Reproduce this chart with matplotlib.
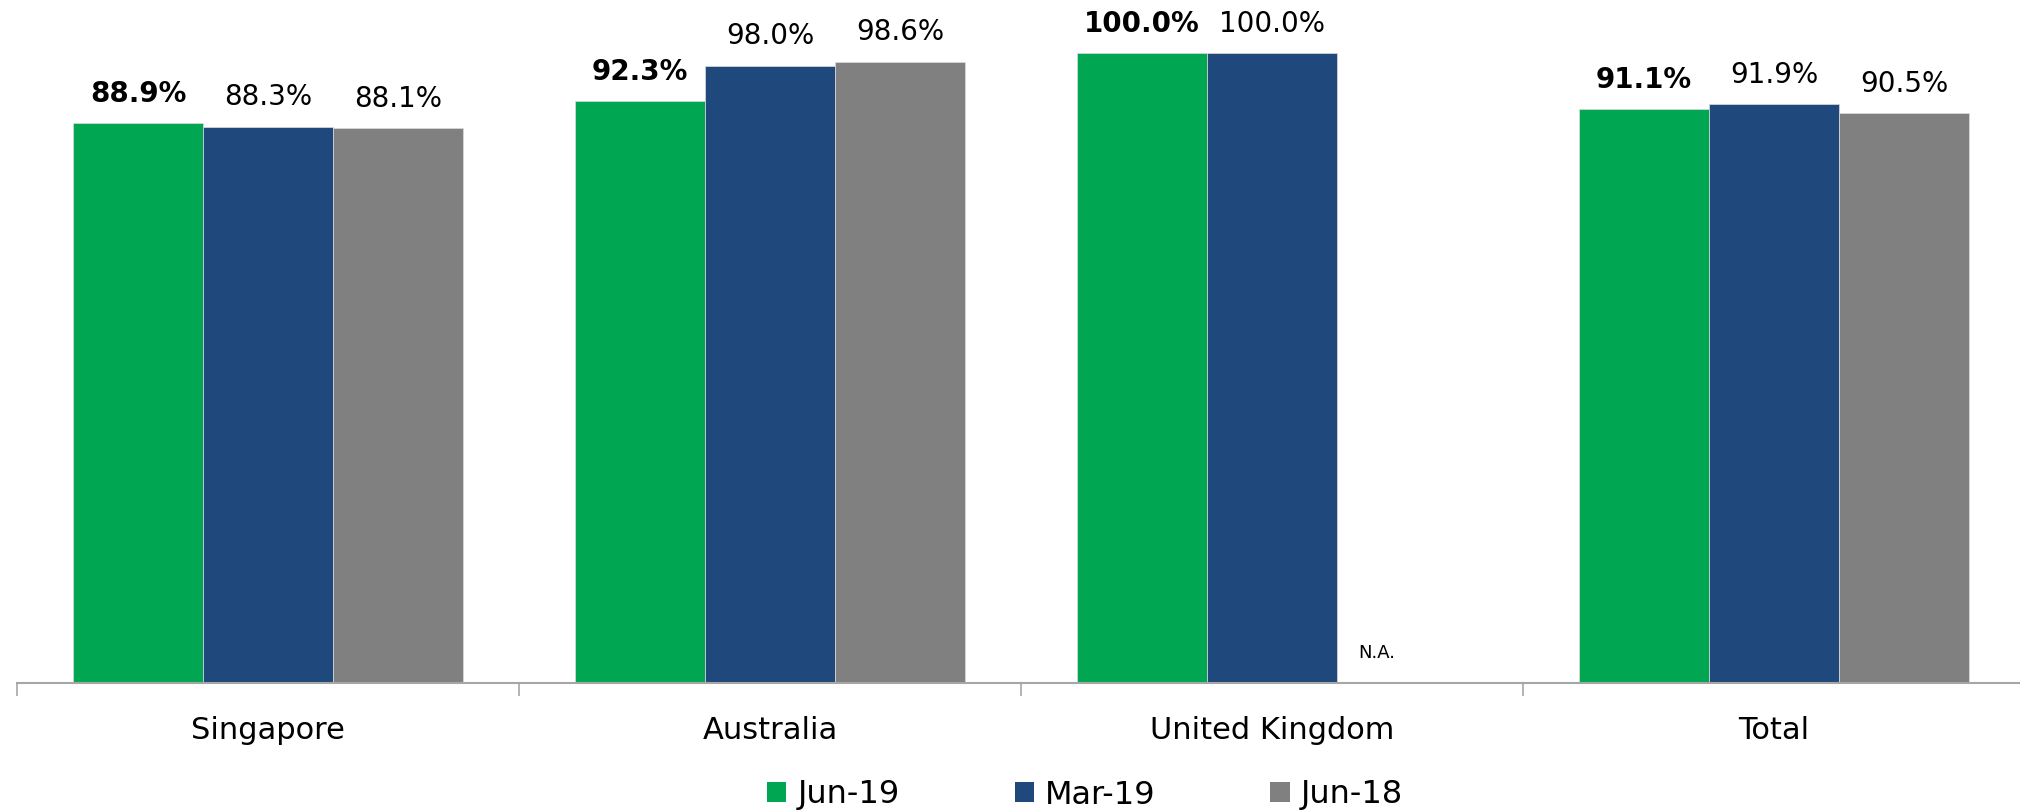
import numpy as np
import matplotlib.pyplot as plt
from matplotlib.patches import Patch

categories = ["Singapore", "Australia", "United Kingdom", "Total"]
series = ["Jun-19", "Mar-19", "Jun-18"]
jun19 = [88.9, 92.3, 100.0, 91.1]
mar19 = [88.3, 98.0, 100.0, 91.9]
jun18 = [88.1, 98.6, np.nan, 90.5]
colors = ["#00A651", "#1F497D", "#808080"]

plt.rcParams['font.family'] = ['DejaVu Sans']

fig = plt.figure(figsize=(20.2, 8.11), dpi=100)
ax = fig.add_axes([17/2020, 1-683/811, 2008/2020, 683/811])

x = np.arange(len(categories))
w = 0.259
for k, (vals, col) in enumerate(zip([jun19, mar19, jun18], colors)):
    pos = x + (k-1)*w
    v = np.array(vals, dtype=float)
    ok = ~np.isnan(v)
    bars = ax.bar(pos[ok], v[ok], w, color=col, edgecolor="#dddddd", linewidth=0.5)
    labels = ["%.1f%%" % a for a in v[ok]]
    ax.bar_label(bars, labels=labels, padding=11, fontsize=20,
                 fontweight="bold" if k == 0 else "normal", color="black")
    for p, a in zip(pos, v):
        if np.isnan(a):
            # no value for this period
            ax.text(p - 0.5*w + 0.042, 4.7, "N.A.", fontsize=13, va="center", ha="left",
                    family=['Liberation Sans Narrow', 'DejaVu Sans'])

ax.set_xlim(-0.5, 3.5)
ax.set_ylim(0, 108.4)
ax.set_yticks([])
for s in ["top", "right", "left"]:
    ax.spines[s].set_visible(False)
ax.spines["bottom"].set_color("#a6a6a6")
ax.spines["bottom"].set_linewidth(1.5)
ax.set_xticks(np.arange(-0.5, 4.0, 1.0))
ax.set_xticklabels([])
ax.tick_params(axis="x", which="major", length=9, width=1.2, color="#a6a6a6")
ax.set_xticks(x, minor=True)
ax.set_xticklabels(categories, minor=True, fontsize=22)
ax.tick_params(axis="x", which="minor", length=0, pad=24)

handles = [Patch(facecolor=c) for c in colors]
fig.legend(handles, series, loc="center", bbox_to_anchor=(1085/2020, 1-795/811),
           ncol=3, frameon=False, fontsize=23, handlelength=0.6, handleheight=0.6,
           handletextpad=0.35, columnspacing=3.6)

fig.savefig("out.png", dpi=100)
